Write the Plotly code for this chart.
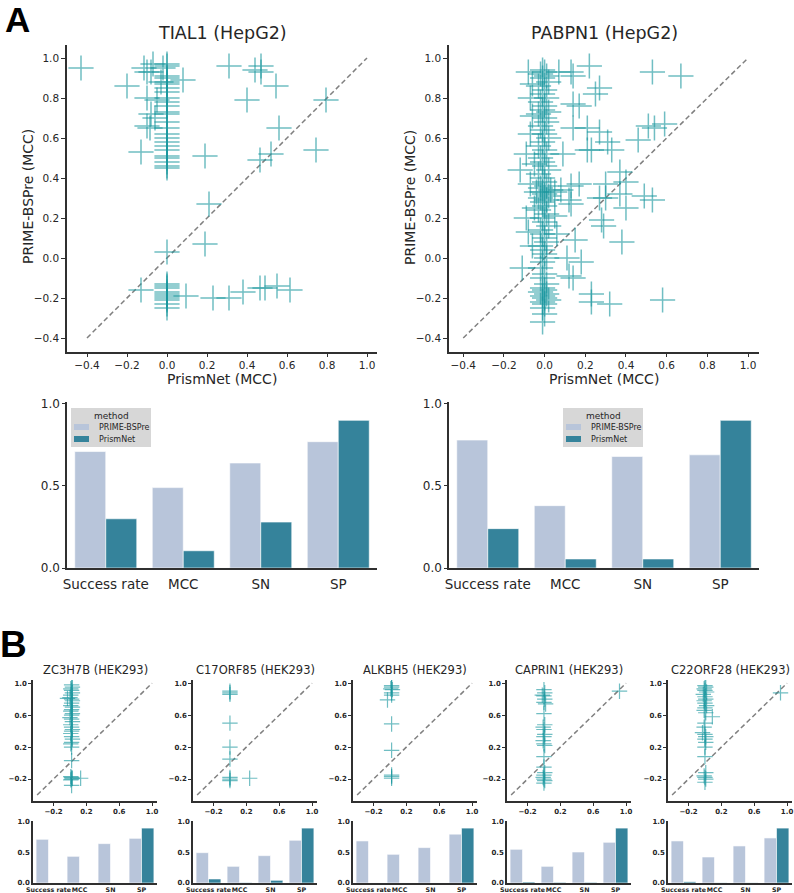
import plotly.graph_objects as go

W, H = 794, 893

# ---------------- data ----------------
metrics = ["Success rate", "MCC", "SN", "SP"]
methods = ["PRIME-BSPre", "PrismNet"]

# Panel A scatter: TIAL1 (HepG2)
tial1_x = [0.0] * 36 + [
    -0.43, -0.20, -0.115, -0.10, -0.07, -0.08, -0.10, -0.05, -0.08, -0.06, -0.10, -0.085, -0.13,
    -0.03, -0.02, 0.08, 0.19, 0.21, 0.19, 0.31, 0.40, 0.44, 0.47, 0.47, 0.545, 0.56, 0.465,
    0.52, 0.745, 0.795, -0.13, 0.095, 0.23, 0.31, 0.38, 0.465, 0.49, 0.55, 0.615]
tial1_y = [
    0.97, 0.96, 0.91, 0.90, 0.88, 0.87, 0.85, 0.83, 0.80, 0.78, 0.76, 0.73, 0.72, 0.68, 0.65,
    0.62, 0.60, 0.58, 0.56, 0.54, 0.51, 0.50, 0.48, 0.46, 0.45, 0.03, -0.13, -0.14, -0.15,
    -0.17, -0.18, -0.19, -0.20, -0.21, -0.23, -0.25,
    0.95, 0.86, 0.95, 0.93, 0.97, 0.93, 0.80, 0.79, 0.72, 0.70, 0.66, 0.65, 0.53,
    0.88, 0.95, 0.89, 0.51, 0.27, 0.07, 0.96, 0.79, 0.94, 0.96, 0.93, 0.86, 0.65, 0.49,
    0.52, 0.54, 0.79, -0.16, -0.19, -0.20, -0.20, -0.17, -0.15, -0.15, -0.14, -0.16]

# Panel A scatter: PABPN1 (HepG2)
pabpn1_x = [
    -0.01, 0.00, -0.02, 0.01, -0.01, 0.02, -0.03, 0.00, -0.01, 0.01, -0.02, 0.00, -0.01, 0.02,
    -0.03, 0.00, 0.01, -0.02, -0.01, 0.00, 0.02, -0.01, -0.03, 0.00, 0.01, -0.02, -0.01, 0.00,
    0.02, -0.03, -0.01, 0.00, 0.01, -0.02, 0.03, -0.01, 0.00, 0.02, -0.02, 0.01, -0.01, 0.00,
    -0.03, 0.01, -0.01, 0.00, 0.02, -0.02, -0.01, 0.00, 0.01, -0.02, -0.01, 0.00, 0.01, -0.01,
    -0.02, 0.00, -0.01, 0.01, -0.01, 0.00, -0.02, 0.01, -0.01, 0.00, 0.02, -0.01, 0.00, -0.01,
    0.00, -0.01,
    0.22, 0.14, 0.13, 0.07, -0.08, 0.53, 0.67, 0.27, 0.25, 0.14, 0.17, 0.14, 0.21, 0.27, 0.31,
    0.33, 0.21, 0.23, 0.09, 0.46, 0.51, 0.54, 0.59, 0.37, 0.40, 0.30, 0.17, 0.13, 0.08, 0.05,
    0.27, 0.30, 0.37, 0.49, 0.53, 0.12, 0.13, 0.40, 0.05, 0.28, 0.29, 0.06, 0.15, 0.38, 0.11,
    0.18, 0.12, 0.14, 0.23, 0.23, 0.32, 0.58, -0.11, -0.12, -0.09, -0.07, -0.09, -0.08, -0.06,
    -0.07, -0.06, -0.07, -0.06, -0.05, -0.04, -0.05]
pabpn1_y = [
    0.94, 0.93, 0.92, 0.91, 0.90, 0.88, 0.86, 0.84, 0.82, 0.80, 0.78, 0.76, 0.74, 0.73, 0.72,
    0.70, 0.68, 0.66, 0.64, 0.62, 0.60, 0.58, 0.56, 0.54, 0.52, 0.50, 0.48, 0.46, 0.44, 0.42,
    0.40, 0.38, 0.36, 0.35, 0.34, 0.33, 0.32, 0.31, 0.30, 0.29, 0.28, 0.26, 0.24, 0.22, 0.20,
    0.18, 0.16, 0.14, 0.12, 0.10, 0.08, 0.06, 0.04, 0.02, 0.00, -0.02, -0.05, -0.08, -0.10,
    -0.13, -0.15, -0.16, -0.17, -0.18, -0.19, -0.20, -0.21, -0.22, -0.23, -0.25, -0.28, -0.32,
    0.96, 0.91, 0.93, 0.93, 0.93, 0.93, 0.91, 0.85, 0.82, 0.77, 0.76, 0.65, 0.65, 0.63, 0.58,
    0.54, 0.54, 0.54, 0.52, 0.59, 0.66, 0.65, 0.67, 0.43, 0.38, 0.37, 0.37, 0.36, 0.34, 0.33,
    0.30, 0.30, 0.32, 0.31, 0.29, 0.29, 0.27, 0.25, 0.21, 0.19, 0.16, 0.12, 0.09, 0.08, 0.00,
    -0.02, -0.09, -0.10, -0.18, -0.22, -0.23, -0.21, -0.05, 0.44, 0.52, 0.37, 0.20, 0.13, 0.06,
    0.62, 0.71, 0.80, 0.87, 0.47, 0.33, 0.25]

# Panel A bars
tial1_prime = [0.71, 0.49, 0.64, 0.77]
tial1_prism = [0.30, 0.105, 0.28, 0.90]
pabpn1_prime = [0.78, 0.38, 0.68, 0.69]
pabpn1_prism = [0.24, 0.055, 0.055, 0.90]

# Panel B
b_names = ["ZC3H7B (HEK293)", "C17ORF85 (HEK293)", "ALKBH5 (HEK293)",
           "CAPRIN1 (HEK293)", "C22ORF28 (HEK293)"]

zc3h7b_x = [0.02, 0.03, 0.01, 0.02, 0.03, 0.01, 0.00, 0.02, 0.03, 0.02, 0.01, 0.03, 0.02, 0.01,
            0.03, 0.02, 0.00, 0.02, 0.03, 0.01, 0.02, 0.03, 0.02, 0.01, 0.02, 0.03, 0.02, 0.01,
            0.02, 0.02, 0.01, 0.02, 0.03, 0.02, 0.01, 0.02, 0.13, -0.03]
zc3h7b_y = [0.98, 0.95, 0.93, 0.91, 0.88, 0.85, 0.82, 0.80, 0.78, 0.75, 0.72, 0.70, 0.67, 0.65,
            0.62, 0.60, 0.57, 0.55, 0.52, 0.48, 0.45, 0.42, 0.40, 0.37, 0.33, 0.30, 0.26, 0.24,
            0.20, 0.03, -0.17, -0.18, -0.19, -0.20, -0.21, -0.28, -0.19, 0.81]

c17orf85_x = [0.0, 0.0, 0.0, 0.0, 0.0, 0.0, 0.0, 0.0, 0.0, 0.24]
c17orf85_y = [0.90, 0.88, 0.86, 0.50, 0.20, 0.05, -0.18, -0.20, -0.22, -0.19]

alkbh5_x = [0.02, 0.02, 0.01, 0.03, 0.02, 0.02, -0.03, 0.02, 0.02, 0.02, 0.02, 0.02]
alkbh5_y = [0.97, 0.95, 0.93, 0.92, 0.88, 0.85, 0.79, 0.49, 0.16, -0.15, -0.17, -0.19]

caprin1_x = [0.0, 0.01, -0.02, 0.0, 0.01, 0.0, 0.02, 0.0, 0.01, -0.01, 0.0, 0.01, 0.0, -0.01,
             0.0, 0.01, 0.0, 0.0, 0.01, 0.0, -0.01, 0.0, 0.01, 0.0, 0.92]
caprin1_y = [0.92, 0.88, 0.85, 0.84, 0.80, 0.76, 0.74, 0.62, 0.48, 0.45, 0.42, 0.36, 0.33, 0.28,
             0.24, 0.22, 0.08, -0.05, -0.12, -0.15, -0.18, -0.20, -0.22, -0.25, 0.90]

c22orf28_x = [0.0, 0.01, -0.01, 0.0, 0.02, -0.02, 0.0, 0.01, -0.01, 0.0, 0.02, 0.0, -0.01, 0.01,
              0.09, 0.0, -0.01, -0.03, 0.0, 0.01, 0.0, 0.01, 0.0, 0.0, 0.01, -0.01, 0.0, 0.01,
              0.0, 0.92]
c22orf28_y = [0.97, 0.95, 0.93, 0.91, 0.89, 0.86, 0.83, 0.80, 0.78, 0.75, 0.72, 0.69, 0.66, 0.63,
              0.58, 0.50, 0.45, 0.38, 0.36, 0.33, 0.30, 0.26, 0.20, 0.08, -0.12, -0.16, -0.18,
              -0.20, -0.24, 0.88]

b_scatter_x = [zc3h7b_x, c17orf85_x, alkbh5_x, caprin1_x, c22orf28_x]
b_scatter_y = [zc3h7b_y, c17orf85_y, alkbh5_y, caprin1_y, c22orf28_y]

b_prime = [[0.716, 0.437, 0.645, 0.732],
           [0.497, 0.273, 0.448, 0.700],
           [0.689, 0.470, 0.580, 0.800],
           [0.552, 0.273, 0.508, 0.667],
           [0.689, 0.426, 0.607, 0.738]]
b_prism = [[0.0, 0.0, 0.0, 0.90],
           [0.066, 0.005, 0.044, 0.90],
           [0.0, 0.0, 0.0, 0.90],
           [0.016, 0.010, 0.010, 0.90],
           [0.020, 0.003, 0.003, 0.90]]

diag = [-0.4, 1.0]

# ---------------- style ----------------
C_LIGHT = "#b8c5da"
C_DARK = "#35839b"
C_PT = "rgba(25,150,158,0.62)"
C_AX = "#303030"
C_TXT = "#262626"
FONT = "DejaVu Sans"


def px2x(p):
    return p / W


def px2y(p):
    return 1 - p / H


fig = go.Figure()
layout = dict(width=W, height=H,
              margin=dict(l=0, r=0, t=0, b=0, pad=0, autoexpand=False),
              paper_bgcolor="white", plot_bgcolor="white",
              barmode="group", bargap=0.2, bargroupgap=0.0,
              font=dict(family=FONT, color=C_TXT), showlegend=False)
annotations = []
shapes = []
ax_i = [0]


def fmt(v):
    return f"{v:.1f}".replace("-", "\u2212")


def new_axes(xdom, ydom, xrange, yrange, xtick=None, ytick=None, tsize=10.5, bold=False,
             cat=False, ticklen=4, xsize=None, xticklen=None):
    ax_i[0] += 1
    i = ax_i[0]
    sx = "" if i == 1 else str(i)
    tf = dict(size=tsize, color=C_TXT, family=FONT)
    if bold:
        tf["weight"] = "bold"
    xtf = dict(tf)
    if xsize is not None:
        xtf["size"] = xsize
    xl = ticklen if xticklen is None else xticklen
    xa = dict(domain=[px2x(xdom[0]), px2x(xdom[1])], anchor="y" + sx, showgrid=False,
              zeroline=False, showline=True, linecolor=C_AX, linewidth=1.5,
              tickfont=xtf, range=xrange)
    if cat:
        xa.update(type="category", ticks="outside", ticklen=xl, tickangle=0,
                  tickcolor="rgba(0,0,0,0)")
    else:
        xa.update(ticks="outside", ticklen=xl, tickwidth=1.2, tickcolor=C_AX,
                  tickvals=xtick, ticktext=[fmt(v) for v in xtick])
    ya = dict(domain=[px2y(ydom[1]), px2y(ydom[0])], anchor="x" + sx, showgrid=False,
              zeroline=False, showline=True, linecolor=C_AX, linewidth=1.5,
              ticks="outside", ticklen=ticklen, tickwidth=1.2, tickcolor=C_AX,
              tickfont=tf, range=yrange, tickvals=ytick,
              ticktext=[fmt(v) for v in ytick])
    layout["xaxis" + sx] = xa
    layout["yaxis" + sx] = ya
    return "x" + sx, "y" + sx


def add_scatter(xs, ys, xa, ya, size, lw):
    fig.add_trace(go.Scatter(x=diag, y=diag, mode="lines", xaxis=xa, yaxis=ya,
                             line=dict(color="#808080", width=1.5, dash="5px,3px"),
                             showlegend=False, hoverinfo="skip"))
    fig.add_trace(go.Scatter(x=xs, y=ys, mode="markers", xaxis=xa, yaxis=ya,
                             marker=dict(symbol="cross-thin", size=size,
                                         line=dict(width=lw, color=C_PT)),
                             showlegend=False))


def add_bars(prime, prism, xa, ya):
    for name, vals, col in [(methods[0], prime, C_LIGHT), (methods[1], prism, C_DARK)]:
        fig.add_trace(go.Bar(x=metrics, y=vals, name=name, xaxis=xa, yaxis=ya,
                             marker=dict(color=col, line=dict(width=0.6, color="white")),
                             showlegend=False))


def text(s, x, y, size, angle=0, bold=False, anchor="center", color=C_TXT):
    f = dict(size=size, color=color, family=FONT)
    if bold:
        f["weight"] = "bold"
    annotations.append(dict(text=s, x=px2x(x), y=px2y(y), xref="paper", yref="paper",
                            showarrow=False, textangle=angle, font=f,
                            xanchor=anchor, yanchor="middle"))


def rect(x0, y0, x1, y1, color):
    shapes.append(dict(type="rect", xref="paper", yref="paper", x0=px2x(x0), x1=px2x(x1),
                       y0=px2y(y1), y1=px2y(y0), fillcolor=color, line=dict(width=0),
                       layer="above"))


def legend_box(x0, y0):
    # seaborn-style legend: title "method" and two colour patches
    rect(x0, y0, x0 + 80, y0 + 39, "rgba(212,212,212,0.92)")
    text("method", x0 + 40, y0 + 8, 9)
    rect(x0 + 3, y0 + 16, x0 + 18, y0 + 22, C_LIGHT)
    text(methods[0], x0 + 26, y0 + 19.5, 8, anchor="left")
    rect(x0 + 3, y0 + 28, x0 + 18, y0 + 34, C_DARK)
    text(methods[1], x0 + 26, y0 + 31.5, 8, anchor="left")


tA = [-0.4, -0.2, 0.0, 0.2, 0.4, 0.6, 0.8, 1.0]
tB = [-0.2, 0.2, 0.6, 1.0]

# ---- Panel A scatters ----
xa, ya = new_axes((67, 377), (45, 352), [-0.5, 1.05], [-0.47, 1.065], tA, tA, xticklen=3)
add_scatter(tial1_x, tial1_y, xa, ya, 18, 1.5)
xa, ya = new_axes((449, 759), (45, 352), [-0.47, 1.054], [-0.47, 1.065], tA, tA, xticklen=3)
add_scatter(pabpn1_x, pabpn1_y, xa, ya, 18, 1.5)

# ---- Panel A bars ----
xa, ya = new_axes((67, 377), (402, 568), None, [0, 1.012], None, [0.0, 0.5, 1.0],
                  tsize=12, cat=True, xsize=13.5, ticklen=3)
add_bars(tial1_prime, tial1_prism, xa, ya)
legend_box(71, 408)
xa, ya = new_axes((449, 759), (402, 568), None, [0, 1.012], None, [0.0, 0.5, 1.0],
                  tsize=12, cat=True, xsize=13.5, ticklen=3)
add_bars(pabpn1_prime, pabpn1_prism, xa, ya)
legend_box(563, 408)

# ---- Panel B ----
b_left = [33, 193, 353, 507, 668]
for k in range(5):
    L = b_left[k]
    xa, ya = new_axes((L, L + 124), (680, 801), [-0.45, 1.06], [-0.475, 1.04], tB, tB,
                      tsize=7, bold=True, ticklen=3)
    add_scatter(b_scatter_x[k], b_scatter_y[k], xa, ya, 11, 1.2)
    text(b_names[k], L + 62, 670, 11.5)
    xa, ya = new_axes((L, L + 124), (821, 883), None, [0, 1.016], None, [0.0, 0.5, 1.0],
                      tsize=7, bold=True, cat=True, ticklen=0, xsize=6.3)
    add_bars(b_prime[k], b_prism[k], xa, ya)

# ---- text ----
text("TIAL1 (HepG2)", 222, 33, 17.5)
text("PABPN1 (HepG2)", 604, 33, 17.5)
text("PRIME-BSPre (MCC)", 28, 197, 14, angle=-90)
text("PRIME-BSPre (MCC)", 410, 197, 14, angle=-90)
text("PrismNet (MCC)", 222, 379, 14)
text("PrismNet (MCC)", 604, 379, 14)
annotations.append(dict(text="<b>A</b>", x=px2x(17), y=px2y(20), xref="paper", yref="paper",
                        showarrow=False, font=dict(size=35, color="black", family="Liberation Sans"),
                        xanchor="center", yanchor="middle"))
annotations.append(dict(text="<b>B</b>", x=px2x(13), y=px2y(644), xref="paper", yref="paper",
                        showarrow=False, font=dict(size=37, color="black", family="Liberation Sans"),
                        xanchor="center", yanchor="middle"))

layout["annotations"] = annotations
layout["shapes"] = shapes
fig.update_layout(**layout)
fig.write_html("out.html")
